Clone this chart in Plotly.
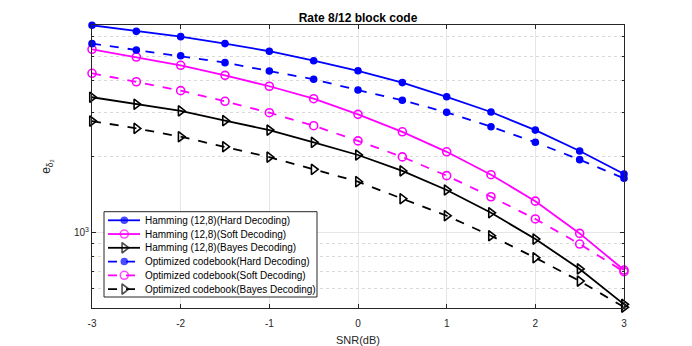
import plotly.graph_objects as go

# SNR values (dB)
snr = [-3, -2.5, -2, -1.5, -1, -0.5, 0, 0.5, 1, 1.5, 2, 2.5, 3]
snr_ticks = [-3, -2, -1, 0, 1, 2, 3]
snr_labels = ["-3", "-2", "-1", "0", "1", "2", "3"]

# Hamming (12,8) results
ham_hard = [6660, 6300, 6000, 5630, 5250, 4815, 4390, 3940, 3460, 3010, 2550, 2105, 1705]
ham_soft = [5345, 4980, 4615, 4210, 3810, 3400, 2945, 2510, 2090, 1695, 1330, 990, 708]
ham_bayes = [3445, 3230, 3040, 2780, 2550, 2280, 2030, 1755, 1473, 1196, 940, 715, 517]

# Optimized codebook results
opt_hard = [5627, 5310, 5040, 4730, 4380, 4060, 3680, 3350, 3000, 2630, 2280, 1945, 1640]
opt_soft = [4290, 3970, 3660, 3320, 2990, 2655, 2310, 1995, 1680, 1385, 1130, 898, 697]
opt_bayes = [2770, 2590, 2400, 2190, 1990, 1780, 1590, 1360, 1164, 969, 792, 640, 504]

names = ["Hamming (12,8)(Hard Decoding)", "Hamming (12,8)(Soft Decoding)",
         "Hamming (12,8)(Bayes Decoding)", "Optimized codebook(Hard Decoding)",
         "Optimized codebook(Soft Decoding)", "Optimized codebook(Bayes Decoding)"]
values = [ham_hard, ham_soft, ham_bayes, opt_hard, opt_soft, opt_bayes]
colors = ["#0000ff", "#ff00ff", "#000000"] * 2
dashes = ["solid"] * 3 + ["dash"] * 3
symbols = ["circle", "circle-open", "triangle-right-open"] * 2
sizes = [6, 8, 9] * 2

fig = go.Figure()
for name, vals, color, dash, symbol, size in zip(names, values, colors, dashes, symbols, sizes):
    fig.add_trace(go.Scatter(
        x=snr, y=vals, name=name, mode="lines+markers", showlegend=False,
        line=dict(color=color, width=1.8, dash=dash),
        marker=dict(symbol=symbol, size=size, color=color,
                    line=dict(color=color, width=1.6)),
        cliponaxis=False,
    ))

# compact MATLAB-style legend, drawn on an overlay axis spanning the plot area (0..1)
pw, ph = 532.0, 283.0
lx0, lx1 = (104 - 92) / pw, (317 - 92) / pw
ly0, ly1 = (308 - 297) / ph, (308 - 211.7) / ph
fig.add_trace(go.Scatter(
    x=[lx0, lx1, lx1, lx0, lx0], y=[ly0, ly0, ly1, ly1, ly0],
    xaxis="x2", yaxis="y2", mode="lines", fill="toself", fillcolor="white",
    line=dict(color="#262626", width=1), showlegend=False, hoverinfo="skip",
))
for i, (name, color, dash, symbol, size) in enumerate(zip(names, colors, dashes, symbols, sizes)):
    yy = (308 - (220.3 + 13.75 * i)) / ph
    xs = [(108 - 92) / pw, (124.3 - 92) / pw, (140 - 92) / pw]
    fig.add_trace(go.Scatter(
        x=xs, y=[yy] * 3, xaxis="x2", yaxis="y2", mode="lines+markers",
        showlegend=False, hoverinfo="skip",
        line=dict(color=color, width=1.8, dash=dash),
        marker=dict(symbol=symbol, size=[0, size, 0], color=color,
                    line=dict(color=color, width=[0, 1.6, 0])),
    ))
    fig.add_annotation(xref="x2", yref="y2", x=(143 - 92) / pw, y=yy, text=name,
                       showarrow=False, xanchor="left", yanchor="middle",
                       font=dict(size=10, color="black"))

fig.update_layout(
    width=684, height=338,
    margin=dict(l=84, r=68, t=17, b=38, autoexpand=False),
    paper_bgcolor="white", plot_bgcolor="white",
    font=dict(family="Liberation Sans, Arial", size=10, color="#262626"),
    title=dict(text="<b>Rate 8/12 block code</b>", x=0.5, xref="paper",
               y=1, yref="paper", yanchor="bottom", pad=dict(b=3),
               font=dict(size=12, color="black")),
    xaxis2=dict(overlaying="x", range=[0, 1], visible=False, anchor="y2"),
    yaxis2=dict(overlaying="y", range=[0, 1], visible=False, anchor="x2"),
)

fig.update_xaxes(
    range=[-3, 3], tickvals=snr_ticks, ticktext=snr_labels, automargin=False,
    ticks="inside", ticklen=4, tickcolor="#262626", ticklabelstandoff=6,
    showline=True, linecolor="#262626", linewidth=1, mirror="ticks",
    showgrid=True, gridcolor="#e6e6e6", gridwidth=1, zeroline=False,
    title=dict(text="SNR(dB)", font=dict(size=11), standoff=10),
    selector=dict(overlaying=None),
)

fig.update_yaxes(
    type="log", range=[2.699, 3.8245], automargin=False,
    tickvals=[1000], ticktext=["10<sup>3</sup>"],
    ticks="inside", ticklen=4, tickcolor="#262626",
    showline=True, linecolor="#262626", linewidth=1, mirror="ticks",
    showgrid=True, gridcolor="#e6e6e6", gridwidth=1, zeroline=False,
    minor=dict(tickvals=[500, 600, 700, 800, 900, 2000, 3000, 4000, 5000, 6000],
               ticks="inside", ticklen=2, tickcolor="#262626",
               showgrid=True, gridcolor="#d9d9d9", griddash="dot", gridwidth=1),
    title=dict(text="e<sub>δ₂</sub>", font=dict(size=12), standoff=20),
    selector=dict(overlaying=None),
)

fig.write_html("out.html")
